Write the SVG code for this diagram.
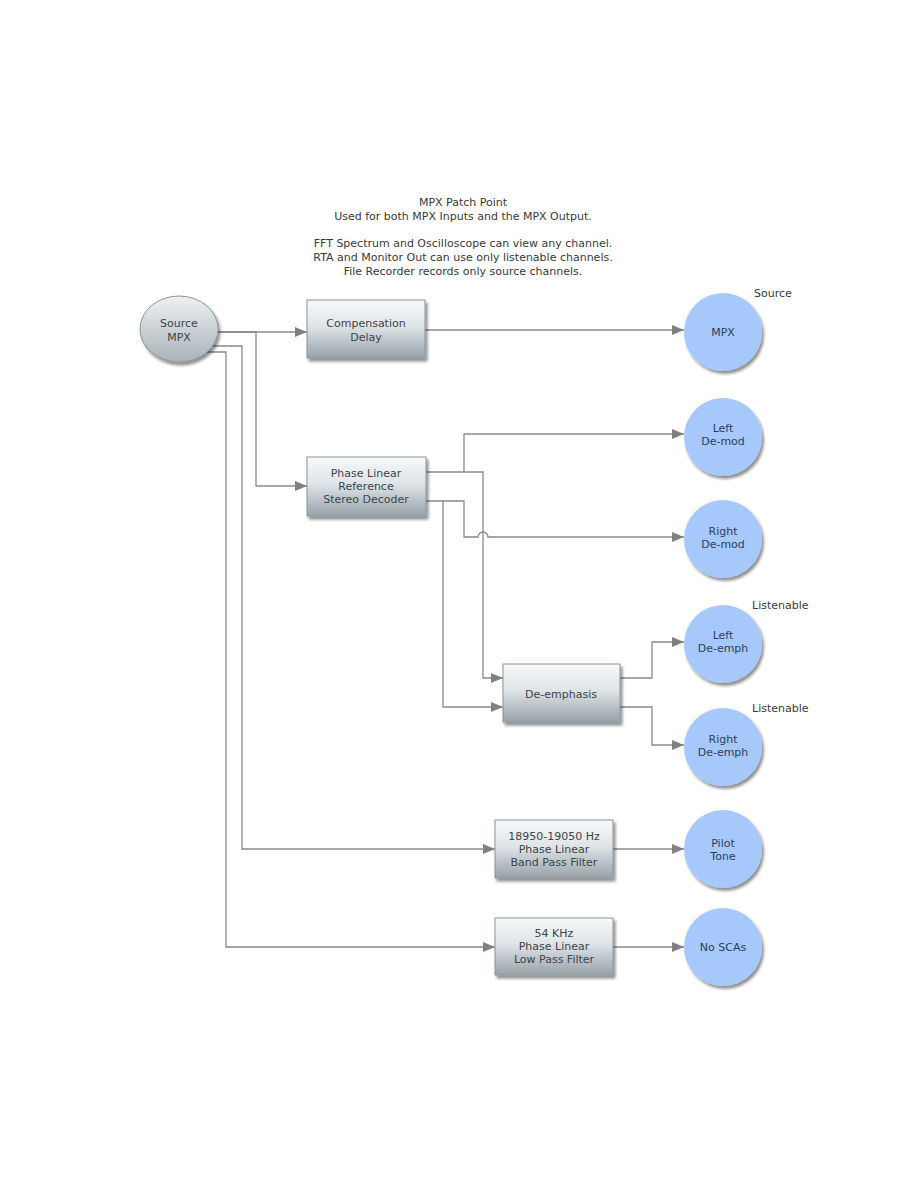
<svg xmlns="http://www.w3.org/2000/svg" width="918" height="1188" viewBox="0 0 918 1188">
<defs>
<linearGradient id="boxg" x1="0" y1="0" x2="0" y2="1">
<stop offset="0" stop-color="#f7f9fa"/>
<stop offset="0.45" stop-color="#dfe4e7"/>
<stop offset="1" stop-color="#97a3a9"/>
</linearGradient>
<linearGradient id="ellg" x1="0" y1="0" x2="0" y2="1">
<stop offset="0" stop-color="#eef1f3"/>
<stop offset="1" stop-color="#a9b3b8"/>
</linearGradient>
<filter id="sh" x="-20%" y="-20%" width="150%" height="150%">
<feGaussianBlur in="SourceAlpha" stdDeviation="1.5"/>
<feOffset dx="2" dy="3" result="o"/>
<feComponentTransfer><feFuncA type="linear" slope="0.45"/></feComponentTransfer>
<feMerge><feMergeNode/><feMergeNode in="SourceGraphic"/></feMerge>
</filter>
<marker id="ar" markerUnits="userSpaceOnUse" markerWidth="13" markerHeight="11" refX="12" refY="5.5" orient="auto">
<path d="M0,0.5 L12,5.5 L0,10.5 z" fill="#808080"/>
</marker>
</defs>
<style>
text{font-family:"DejaVu Sans","Liberation Sans",sans-serif;font-size:11px;text-anchor:middle}
.title{fill:#3a3a3a}
.lbl{fill:#3a3a3a;text-anchor:start}
.box{fill:url(#boxg);stroke:#8c9499;stroke-width:1;filter:url(#sh)}
.btx{fill:#3e4448}
.circ{fill:#a7c8fb;filter:url(#sh)}
.ctx{fill:#2e3f5a}
.con{fill:none;stroke:#8a8a8a;stroke-width:1.3}
</style>

<g id="title">
<text class="title" x="463" y="206">MPX Patch Point</text>
<text class="title" x="463" y="220">Used for both MPX Inputs and the MPX Output.</text>
<text class="title" x="463" y="247">FFT Spectrum and Oscilloscope can view any channel.</text>
<text class="title" x="463" y="261">RTA and Monitor Out can use only listenable channels.</text>
<text class="title" x="463" y="275">File Recorder records only source channels.</text>
</g>

<g id="connectors">
<path class="con" d="M218,332 H307" marker-end="url(#ar)"/>
<path class="con" d="M425,330 H684" marker-end="url(#ar)"/>
<path class="con" d="M218,332 H256 V486 H307" marker-end="url(#ar)"/>
<path class="con" d="M213,346 H242 V849 H495" marker-end="url(#ar)"/>
<path class="con" d="M207,352 H226 V947 H495" marker-end="url(#ar)"/>
<path class="con" d="M464,472 V434 H684" marker-end="url(#ar)"/>
<path class="con" d="M426,472 H483 V678 H503" marker-end="url(#ar)"/>
<path class="con" d="M426,501 H464 V537 H478 A5,5 0 0 1 488,537 H684" marker-end="url(#ar)"/>
<path class="con" d="M443,501 V707 H503" marker-end="url(#ar)"/>
<path class="con" d="M620,678 H652 V642 H684" marker-end="url(#ar)"/>
<path class="con" d="M620,707 H652 V745 H684" marker-end="url(#ar)"/>
<path class="con" d="M613,849 H684" marker-end="url(#ar)"/>
<path class="con" d="M613,947 H684" marker-end="url(#ar)"/>
</g>

<g id="source-mpx">
<ellipse cx="179" cy="329" rx="39" ry="33" fill="url(#ellg)" stroke="#8c9499" stroke-width="1" filter="url(#sh)"/>
<text class="btx" x="179" y="327">Source</text>
<text class="btx" x="179" y="341">MPX</text>
</g>

<g id="compensation-delay">
<rect class="box" x="307" y="300" width="118" height="58"/>
<text class="btx" x="366" y="327">Compensation</text>
<text class="btx" x="366" y="341">Delay</text>
</g>

<g id="stereo-decoder">
<rect class="box" x="307" y="457" width="119" height="59"/>
<text class="btx" x="366" y="477">Phase Linear</text>
<text class="btx" x="366" y="490">Reference</text>
<text class="btx" x="366" y="503">Stereo Decoder</text>
</g>

<g id="de-emphasis">
<rect class="box" x="503" y="664" width="117" height="58"/>
<text class="btx" x="561" y="698">De-emphasis</text>
</g>

<g id="band-pass">
<rect class="box" x="495" y="820" width="118" height="58"/>
<text class="btx" x="554" y="840">18950-19050 Hz</text>
<text class="btx" x="554" y="853">Phase Linear</text>
<text class="btx" x="554" y="866">Band Pass Filter</text>
</g>

<g id="low-pass">
<rect class="box" x="495" y="918" width="118" height="57"/>
<text class="btx" x="554" y="937">54 KHz</text>
<text class="btx" x="554" y="950">Phase Linear</text>
<text class="btx" x="554" y="963">Low Pass Filter</text>
</g>

<g id="mpx-out">
<circle class="circ" cx="723" cy="332" r="39"/>
<text class="ctx" x="723" y="336">MPX</text>
<text class="lbl" x="754" y="297">Source</text>
</g>

<g id="left-demod">
<circle class="circ" cx="723" cy="437" r="39"/>
<text class="ctx" x="723" y="432">Left</text>
<text class="ctx" x="723" y="445">De-mod</text>
</g>

<g id="right-demod">
<circle class="circ" cx="723" cy="539" r="39"/>
<text class="ctx" x="723" y="535">Right</text>
<text class="ctx" x="723" y="548">De-mod</text>
</g>

<g id="left-deemph">
<circle class="circ" cx="723" cy="644" r="39"/>
<text class="ctx" x="723" y="639">Left</text>
<text class="ctx" x="723" y="652">De-emph</text>
<text class="lbl" x="752" y="609">Listenable</text>
</g>

<g id="right-deemph">
<circle class="circ" cx="723" cy="747" r="39"/>
<text class="ctx" x="723" y="743">Right</text>
<text class="ctx" x="723" y="756">De-emph</text>
<text class="lbl" x="752" y="712">Listenable</text>
</g>

<g id="pilot-tone">
<circle class="circ" cx="723" cy="849" r="39"/>
<text class="ctx" x="723" y="847">Pilot</text>
<text class="ctx" x="723" y="860">Tone</text>
</g>

<g id="no-scas">
<circle class="circ" cx="723" cy="947" r="39"/>
<text class="ctx" x="723" y="951">No SCAs</text>
</g>
</svg>
